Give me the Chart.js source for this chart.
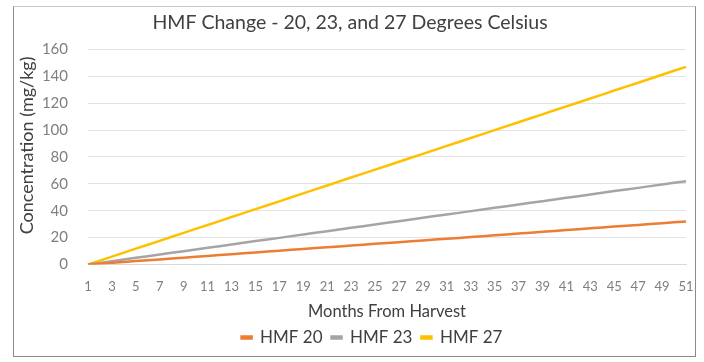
<!DOCTYPE html>
<html>
<head>
<meta charset="utf-8">
<script src="https://cdn.jsdelivr.net/npm/chart.js@4/dist/chart.umd.min.js"></script>
<style>
  html, body { margin: 0; padding: 0; background: #fff; }
  body { width: 704px; height: 362px; position: relative; overflow: hidden; }
  #frame { position: absolute; left: 13px; top: 6px; width: 681px; height: 349px;
           border: 1px solid #8a8a8a; border-top-color: #c8c8c8; background: #fff; }
  canvas { display: block; }
</style>
</head>
<body>
<div id="frame"><canvas id="c" width="681" height="349"></canvas></div>
<script>
const months = [1,2,3,4,5,6,7,8,9,10,11,12,13,14,15,16,17,18,19,20,21,22,23,24,25,26,27,28,29,30,31,32,33,34,35,36,37,38,39,40,41,42,43,44,45,46,47,48,49,50,51];
const hmf20 = [0,0.6,1.3,1.9,2.6,3.2,3.8,4.5,5.1,5.8,6.4,7.0,7.7,8.3,9.0,9.6,10.2,10.9,11.5,12.2,12.8,13.4,14.1,14.7,15.4,16.0,16.6,17.3,17.9,18.6,19.2,19.8,20.5,21.1,21.8,22.4,23.0,23.7,24.3,25.0,25.6,26.2,26.9,27.5,28.2,28.8,29.4,30.1,30.7,31.4,32.0];
const hmf23 = [0,1.2,2.5,3.7,5.0,6.2,7.4,8.7,9.9,11.2,12.4,13.6,14.9,16.1,17.4,18.6,19.8,21.1,22.3,23.6,24.8,26.0,27.3,28.5,29.8,31.0,32.2,33.5,34.7,36.0,37.2,38.4,39.7,40.9,42.2,43.4,44.6,45.9,47.1,48.4,49.6,50.8,52.1,53.3,54.6,55.8,57.0,58.3,59.5,60.8,62.0];
const hmf27 = [0,2.9,5.9,8.8,11.8,14.7,17.6,20.6,23.5,26.5,29.4,32.3,35.3,38.2,41.2,44.1,47.0,50.0,52.9,55.9,58.8,61.7,64.7,67.6,70.6,73.5,76.4,79.4,82.3,85.3,88.2,91.1,94.1,97.0,100.0,102.9,105.8,108.8,111.7,114.7,117.6,120.5,123.5,126.4,129.4,132.3,135.2,138.2,141.1,144.1,147.0];
const seriesNames = ['HMF 20', 'HMF 23', 'HMF 27'];
const yTicks = [0,20,40,60,80,100,120,140,160];
const chartTitle = 'HMF Change - 20, 23, and 27 Degrees Celsius';
const xTitle = 'Months From Harvest';
const yTitle = 'Concentration (mg/kg)';

const FONT = 'Lato, "Open Sans", sans-serif';
const colors = ['#ED7D31', '#A5A5A5', '#FFC000'];
const mk = (label, data, color) => ({
  label, data, borderColor: color, backgroundColor: color,
  borderWidth: 2.5, pointRadius: 0, tension: 0, fill: false
});

// nudge the legend to the right, as in the reference
const legendShift = {
  id: 'legendShift',
  afterLayout(chart) {
    const l = chart.legend;
    if (l) { l.left += 22; l.right += 22; }
  }
};

new Chart(document.getElementById('c'), {
  type: 'line',
  data: {
    labels: months,
    datasets: [mk(seriesNames[0], hmf20, colors[0]), mk(seriesNames[1], hmf23, colors[1]), mk(seriesNames[2], hmf27, colors[2])]
  },
  plugins: [legendShift],
  options: {
    responsive: false,
    animation: false,
    devicePixelRatio: 1,
    layout: { padding: { left: 0, right: 9, top: 0, bottom: 0 } },
    plugins: {
      title: {
        display: true, text: chartTitle, color: '#404040',
        font: { family: FONT, size: 19.5, weight: 'normal' },
        padding: { top: 4, bottom: 15 }
      },
      legend: {
        position: 'bottom',
        labels: {
          color: '#404040', font: { family: FONT, size: 17 },
          boxWidth: 10, boxHeight: 2, padding: 9
        }
      },
      tooltip: { enabled: false }
    },
    scales: {
      x: {
        type: 'category',
        grid: { display: false, drawTicks: false },
        border: { display: true, color: '#d9d9d9', width: 1 },
        ticks: {
          color: '#7f7f7f', font: { family: FONT, size: 13 },
          autoSkip: false, maxRotation: 0, minRotation: 0, padding: 15,
          callback: function (v, i) { return i % 2 === 0 ? String(months[i]) : ''; }
        },
        title: {
          display: true, text: xTitle, color: '#404040',
          font: { family: FONT, size: 16.5 }, padding: { top: 0, bottom: -2 }
        },
        afterFit: s => { s.height = 55.5; s.paddingRight = 8; s.paddingLeft = 8; }
      },
      y: {
        min: 0, max: 160,
        afterBuildTicks: s => { s.ticks = yTicks.map(v => ({ value: v })); },
        grid: { color: '#e3e3e3', drawTicks: false },
        border: { display: false },
        ticks: { color: '#7f7f7f', font: { family: FONT, size: 15 }, padding: 20 },
        title: {
          display: true, text: '     ' + yTitle, color: '#404040',
          font: { family: FONT, size: 18 }, padding: { top: 2, bottom: 0 }
        },
        afterFit: s => { s.width = 74; }
      }
    }
  }
});
</script>
</body>
</html>
